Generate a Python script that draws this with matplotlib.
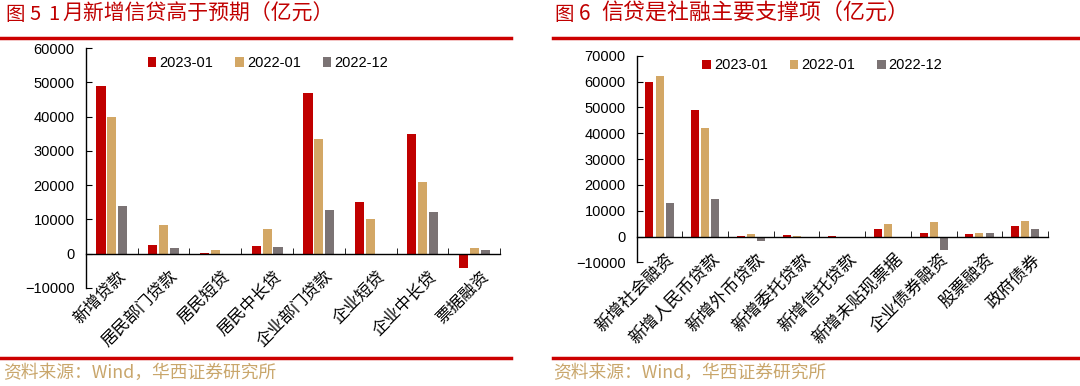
import matplotlib
matplotlib.use("Agg")
import matplotlib.pyplot as plt
from matplotlib.lines import Line2D
from matplotlib.transforms import ScaledTranslation
import numpy as np

plt.rcParams['font.family'] = ['Liberation Sans', 'Noto Sans CJK SC', 'DejaVu Sans']

# ── Data ────────────────────────────────────────────────────────────────────
SERIES = ["2023-01", "2022-01", "2022-12"]
COLORS = ["#C00000", "#D3A765", "#7B7374"]

cats_left = ["新增贷款", "居民部门贷款", "居民短贷", "居民中长贷",
             "企业部门贷款", "企业短贷", "企业中长贷", "票据融资"]
left_2023_01 = [49000, 2570, 300, 2150, 46800, 15000, 34900, -4200]
left_2022_01 = [39800, 8300, 1000, 7300, 33500, 10050, 20900, 1760]
left_2022_12 = [14000, 1760, 0, 1850, 12600, -400, 12100, 1170]

cats_right = ["新增社会融资", "新增人民币贷款", "新增外币贷款", "新增委托贷款",
              "新增信托贷款", "新增未贴现票据", "企业债券融资", "股票融资", "政府债券"]
right_2023_01 = [59800, 49000, 100, 600, 100, 2950, 1500, 900, 4100]
right_2022_01 = [62100, 41900, 1000, 400, -600, 4800, 5800, 1400, 6100]
right_2022_12 = [13000, 14400, -1700, 0, -600, -400, -5100, 1400, 2800]

TITLE_RED = "#C00000"
SRC_COLOR = "#C9A66B"
CJK = ['Noto Sans CJK SC', 'DejaVu Sans']

fig = plt.figure(figsize=(10.8, 3.86), dpi=100)


def draw_panel(ax, cats, series, ylim, step, width, gap, leg_anchor, lab_size):
    x = np.arange(len(cats))
    for i, (vals, name, col) in enumerate(zip(series, SERIES, COLORS)):
        ax.bar(x + (i - 1) * gap, vals, width, color=col, label=name, zorder=2)
    ax.set_xlim(-0.5, len(cats) - 0.5)
    ax.set_ylim(*ylim)
    ax.set_yticks(np.arange(ylim[0], ylim[1] + 1, step))
    for s in ["top", "right"]:
        ax.spines[s].set_visible(False)
    ax.spines["bottom"].set_position(("data", 0))
    ax.spines["bottom"].set_linewidth(1.0)
    ax.spines["left"].set_linewidth(1.0)
    ax.tick_params(axis="y", direction="in", length=4, labelsize=10.5, pad=8)
    ax.set_xticks(x)
    ax.set_xticks(np.arange(-0.5, len(cats)), minor=True)
    ax.tick_params(axis="x", which="major", length=0, pad=10)
    ax.tick_params(axis="x", which="minor", direction="in", length=4)
    ax.set_xticklabels(cats, rotation=45, ha="right", rotation_mode="anchor",
                       family=CJK, fontsize=lab_size)
    shift = ScaledTranslation(4 / 72, 0, fig.dpi_scale_trans)
    for lab in ax.get_xticklabels():
        lab.set_transform(lab.get_transform() + shift)
    ax.legend(loc="upper left", bbox_to_anchor=leg_anchor, ncol=3,
              frameon=False, fontsize=10.5, handlelength=0.6,
              handleheight=0.6, handletextpad=0.2, columnspacing=1.5,
              borderaxespad=0)


# ── Left chart ──────────────────────────────────────────────────────────────
ax1 = fig.add_axes([0.0796, 0.254, 0.3834, 0.6216])
draw_panel(ax1, cats_left, [left_2023_01, left_2022_01, left_2022_12],
           (-10000, 60000), 10000, 0.175, 0.21, (0.135, 0.99), 12)

# ── Right chart ─────────────────────────────────────────────────────────────
ax2 = fig.add_axes([0.5895, 0.32, 0.3809, 0.5357])
draw_panel(ax2, cats_right, [right_2023_01, right_2022_01, right_2022_12],
           (-10000, 70000), 10000, 0.175, 0.22, (0.145, 1.015), 12.3)

# ── Titles, rules and sources ───────────────────────────────────────────────
ty = 1 - 14 / 386
for xpx, txt, fs in [(5, "图", 14), (29, "5", 14.5), (48, "1", 14.5),
                     (62, "月新增信贷高于预期（亿元）", 15),
                     (554, "图", 14), (579, "6", 15),
                     (601, "信贷是社融主要支撑项（亿元）", 15.8)]:
    fig.text(xpx / 1080, ty, txt, color=TITLE_RED, fontsize=fs, family=CJK,
             va="center", ha="left")

for x0, x1 in [(0.0, 0.473), (0.512, 1.0)]:
    for yy in [1 - 38 / 386, 1 - 358 / 386]:
        fig.add_artist(Line2D([x0, x1], [yy, yy], color="#CC0000", lw=2.5,
                              transform=fig.transFigure))

src = "资料来源：Wind，华西证券研究所"
fig.text(3 / 1080, 1 - 373 / 386, src, color=SRC_COLOR,
         fontsize=12.8, family=CJK, va="center", ha="left")
fig.text(553 / 1080, 1 - 373 / 386, src, color=SRC_COLOR,
         fontsize=12.8, family=CJK, va="center", ha="left")

plt.savefig("out.png", dpi=100)
plt.close()
